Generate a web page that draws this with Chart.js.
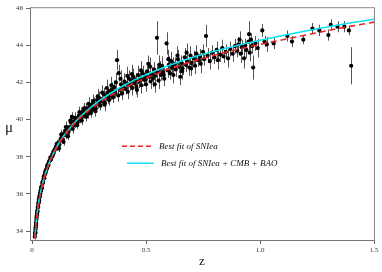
<!DOCTYPE html>
<html>
<head>
<meta charset="utf-8">
<script src="https://cdn.jsdelivr.net/npm/chart.js@4"></script>
<style>
  html, body { margin: 0; padding: 0; background: #fff; }
  #wrap { width: 382px; height: 272px; }
</style>
</head>
<body>
<div id="wrap"><canvas id="hubbleChart" width="382" height="272"></canvas></div>
<script>
// SNIa redshifts, distance moduli and 1-sigma errors
const snZ = [
  0.012, 0.013, 0.014, 0.015, 0.015, 0.016, 0.017, 0.017, 0.018, 0.019,
  0.020, 0.021, 0.022, 0.023, 0.024, 0.025, 0.026, 0.027, 0.028, 0.029,
  0.030, 0.031, 0.032, 0.033, 0.034, 0.035, 0.036, 0.038, 0.039, 0.040,
  0.042, 0.043, 0.045, 0.046, 0.048, 0.050, 0.052, 0.054, 0.056, 0.058,
  0.060, 0.062, 0.064, 0.066, 0.068, 0.070, 0.072, 0.075, 0.078, 0.080,
  0.083, 0.085, 0.088, 0.090, 0.093, 0.095, 0.098, 0.100,
  0.105, 0.110, 0.115, 0.120, 0.125, 0.130, 0.135, 0.140, 0.145, 0.150,
  0.155, 0.160, 0.165, 0.170, 0.175, 0.180, 0.185, 0.190, 0.195, 0.200,
  0.205, 0.210, 0.215, 0.220, 0.225, 0.230, 0.235, 0.240, 0.245, 0.250,
  0.255, 0.260, 0.265, 0.270, 0.275, 0.280, 0.285, 0.290, 0.295, 0.300,
  0.305, 0.310, 0.315, 0.320, 0.325, 0.330, 0.335, 0.340, 0.345, 0.350,
  0.355, 0.360, 0.365, 0.373, 0.380, 0.385, 0.390, 0.395, 0.400, 0.405,
  0.410, 0.415, 0.420, 0.425, 0.430, 0.435, 0.440, 0.445, 0.450, 0.455,
  0.460, 0.465, 0.470, 0.475, 0.480, 0.485, 0.490, 0.495, 0.500, 0.505,
  0.510, 0.515, 0.520, 0.525, 0.530, 0.535, 0.540, 0.548, 0.550, 0.555,
  0.560, 0.565, 0.570, 0.575, 0.580, 0.590, 0.595, 0.600,
  0.605, 0.610, 0.615, 0.620, 0.625, 0.630, 0.640, 0.645, 0.650, 0.655,
  0.660, 0.670, 0.675, 0.680, 0.690, 0.695, 0.700, 0.710, 0.715, 0.720,
  0.730, 0.735, 0.740, 0.750, 0.755, 0.763, 0.770, 0.780, 0.790, 0.800,
  0.810, 0.815, 0.825, 0.835, 0.840, 0.850, 0.860, 0.870, 0.880, 0.890,
  0.900, 0.905, 0.910, 0.915, 0.920, 0.930, 0.935, 0.940, 0.950, 0.952,
  0.955, 0.960, 0.965, 0.970, 0.980, 0.990, 1.010, 1.020, 1.030, 1.060,
  1.120, 1.140, 1.190, 1.230, 1.260, 1.300, 1.310, 1.340, 1.370, 1.390,
  1.400,
  0.108, 0.118, 0.128, 0.138, 0.148, 0.158, 0.168, 0.178, 0.188, 0.198,
  0.208, 0.218, 0.228, 0.238, 0.248, 0.258, 0.268, 0.278, 0.288, 0.298,
  0.308, 0.318, 0.328, 0.338, 0.348, 0.358, 0.368, 0.378, 0.388, 0.398,
  0.418, 0.438, 0.458, 0.478, 0.498, 0.518, 0.538, 0.558, 0.578, 0.598,
  0.618, 0.638, 0.658, 0.678, 0.698
];
const snMu = [
  33.70, 33.85, 33.95, 34.10, 33.92, 34.20, 34.30, 34.45, 34.40, 34.62,
  34.75, 34.85, 34.95, 35.10, 35.05, 35.25, 35.35, 35.30, 35.50, 35.55,
  35.70, 35.65, 35.82, 35.90, 35.85, 36.05, 36.00, 36.20, 36.15, 36.35,
  36.40, 36.30, 36.55, 36.65, 36.60, 36.80, 36.95, 36.85, 37.05, 37.20,
  37.15, 37.30, 37.35, 37.50, 37.45, 37.60, 37.55, 37.75, 37.80, 37.95,
  37.85, 38.00, 38.10, 38.05, 38.25, 38.20, 38.35, 38.40,
  38.55, 38.50, 38.75, 38.65, 38.95, 39.05, 38.90, 39.25, 39.40, 39.15,
  39.50, 39.35, 39.60, 39.85, 40.15, 39.65, 39.90, 39.75, 40.05, 39.85,
  40.20, 40.00, 40.35, 40.15, 40.45, 40.25, 40.60, 40.40, 40.30, 40.65,
  40.50, 40.80, 40.55, 40.90, 40.70, 40.60, 41.05, 40.85, 41.15, 40.75,
  41.10, 41.00, 41.35, 40.90, 41.25, 41.45, 41.15, 41.55, 41.30, 41.60,
  41.20, 41.75, 41.45, 43.20, 42.50, 41.60, 41.90, 41.40, 41.80, 42.05,
  41.65, 41.95, 41.50, 42.20, 41.85, 42.10, 41.70, 42.30, 41.95, 42.15,
  41.60, 42.40, 42.05, 42.25, 41.85, 42.50, 42.15, 42.35, 41.90, 42.60,
  43.00, 42.30, 42.05, 42.45, 42.20, 42.70, 42.35, 44.40, 42.55, 42.10,
  42.75, 42.40, 42.90, 42.55, 42.20, 44.10, 42.65, 42.95,
  42.50, 43.15, 42.80, 42.40, 43.00, 42.70, 43.25, 42.85, 42.30, 43.05,
  42.75, 43.35, 42.95, 43.15, 42.80, 43.45, 43.05, 43.30, 42.90, 43.55,
  43.20, 43.40, 43.00, 43.65, 43.25, 44.50, 43.45, 43.15, 43.60, 43.35,
  43.75, 43.20, 43.50, 43.85, 43.40, 43.65, 43.30, 43.80, 43.55, 43.95,
  43.70, 44.05, 44.30, 43.55, 43.90, 43.30, 44.00, 43.75, 44.20, 44.60,
  43.60, 44.30, 43.95, 42.80, 44.10, 43.85, 44.80, 44.20, 44.05, 44.10,
  44.50, 44.20, 44.30, 44.90, 44.80, 44.55, 45.10, 45.00, 45.00, 44.80,
  42.90,
  38.70, 38.45, 39.20, 38.80, 39.60, 39.10, 39.95, 39.50, 40.10, 39.70,
  40.40, 39.95, 40.60, 40.15, 40.85, 40.35, 41.00, 40.45, 41.25, 40.95,
  41.45, 40.80, 41.70, 41.05, 41.85, 41.50, 42.00, 41.30, 42.20, 41.75,
  42.35, 42.45, 41.75, 42.65, 42.15, 42.85, 41.90, 42.95, 42.40, 43.25,
  42.95, 43.45, 42.60, 43.60, 42.75
];
const snErr = [
  0.15, 0.12, 0.15, 0.12, 0.14, 0.12, 0.15, 0.12, 0.14, 0.12,
  0.13, 0.12, 0.15, 0.12, 0.13, 0.12, 0.15, 0.12, 0.13, 0.12,
  0.14, 0.12, 0.13, 0.12, 0.15, 0.12, 0.13, 0.12, 0.14, 0.12,
  0.13, 0.12, 0.15, 0.12, 0.13, 0.12, 0.14, 0.12, 0.13, 0.12,
  0.14, 0.12, 0.13, 0.12, 0.15, 0.12, 0.13, 0.12, 0.14, 0.13,
  0.12, 0.15, 0.12, 0.13, 0.12, 0.14, 0.15, 0.12,
  0.15, 0.18, 0.15, 0.20, 0.18, 0.20, 0.15, 0.20, 0.18, 0.20,
  0.22, 0.18, 0.20, 0.25, 0.25, 0.20, 0.22, 0.20, 0.25, 0.20,
  0.25, 0.20, 0.30, 0.22, 0.25, 0.20, 0.30, 0.22, 0.25, 0.25,
  0.22, 0.30, 0.25, 0.30, 0.22, 0.25, 0.30, 0.25, 0.35, 0.25,
  0.30, 0.25, 0.35, 0.30, 0.25, 0.40, 0.30, 0.35, 0.25, 0.40,
  0.30, 0.35, 0.30, 0.55, 0.45, 0.30, 0.40, 0.35, 0.30, 0.45,
  0.30, 0.35, 0.40, 0.45, 0.30, 0.35, 0.40, 0.45, 0.30, 0.35,
  0.40, 0.50, 0.35, 0.30, 0.45, 0.40, 0.35, 0.30, 0.40, 0.45,
  0.45, 0.30, 0.40, 0.35, 0.45, 0.40, 0.30, 0.90, 0.35, 0.45,
  0.40, 0.30, 0.50, 0.35, 0.40, 0.60, 0.40, 0.45,
  0.35, 0.50, 0.40, 0.45, 0.35, 0.40, 0.50, 0.35, 0.45, 0.40,
  0.35, 0.50, 0.40, 0.35, 0.45, 0.50, 0.35, 0.40, 0.45, 0.45,
  0.35, 0.40, 0.50, 0.40, 0.35, 0.60, 0.40, 0.45, 0.40, 0.35,
  0.45, 0.50, 0.40, 0.45, 0.35, 0.40, 0.50, 0.40, 0.45, 0.40,
  0.35, 0.40, 0.45, 0.50, 0.40, 0.55, 0.35, 0.45, 0.50, 0.70,
  0.45, 0.35, 0.40, 0.65, 0.40, 0.50, 0.35, 0.30, 0.40, 0.30,
  0.30, 0.30, 0.25, 0.30, 0.30, 0.30, 0.30, 0.30, 0.30, 0.25,
  1.00,
  0.20, 0.20, 0.25, 0.20, 0.30, 0.20, 0.30, 0.25, 0.30, 0.20,
  0.30, 0.25, 0.30, 0.25, 0.35, 0.25, 0.35, 0.30, 0.40, 0.30,
  0.40, 0.35, 0.45, 0.30, 0.45, 0.35, 0.50, 0.35, 0.45, 0.40,
  0.50, 0.50, 0.40, 0.50, 0.40, 0.50, 0.45, 0.50, 0.40, 0.50,
  0.40, 0.50, 0.45, 0.50, 0.40
];

// best-fit curves, sampled from the figure
const fitZ = [0.012, 0.015, 0.02, 0.025, 0.03, 0.04, 0.05, 0.06, 0.07, 0.08, 0.1,
  0.12, 0.15, 0.2, 0.25, 0.3, 0.35, 0.4, 0.45, 0.5, 0.6, 0.7, 0.8, 0.9, 1.0,
  1.1, 1.2, 1.3, 1.4, 1.5];
const fitSN = [33.58, 34.05, 34.70, 35.19, 35.60, 36.23, 36.74, 37.15, 37.50, 37.81, 38.32,
  38.75, 39.27, 39.96, 40.50, 40.95, 41.33, 41.67, 41.97, 42.24, 42.71, 43.12, 43.46, 43.77, 44.05,
  44.30, 44.55, 44.80, 45.03, 45.25];
const fitAll = [33.58, 34.05, 34.70, 35.19, 35.60, 36.23, 36.74, 37.15, 37.51, 37.82, 38.34,
  38.78, 39.31, 40.02, 40.58, 41.06, 41.46, 41.82, 42.14, 42.42, 42.91, 43.33, 43.68, 43.99, 44.27,
  44.53, 44.77, 45.00, 45.21, 45.40];

const xTicks = [0, 0.5, 1, 1.5];
const yTicks = [34, 36, 38, 40, 42, 44, 46];

const serif = '"Liberation Serif", "DejaVu Serif", serif';
const toXY = (xs, ys) => xs.map((x, i) => ({ x: x, y: ys[i] }));

// vertical error bars + frame + legend + upright mu label
const extras = {
  id: 'extras',
  beforeDatasetsDraw(chart) {
    const { ctx, scales: { x, y } } = chart;
    ctx.save();
    ctx.strokeStyle = '#555';
    ctx.lineWidth = 1;
    ctx.beginPath();
    snZ.forEach((z, i) => {
      const px = Math.round(x.getPixelForValue(z)) + 0.5;
      ctx.moveTo(px, y.getPixelForValue(snMu[i] - snErr[i]));
      ctx.lineTo(px, y.getPixelForValue(snMu[i] + snErr[i]));
    });
    ctx.stroke();
    ctx.restore();
  },
  afterDraw(chart) {
    const { ctx, chartArea: a } = chart;
    ctx.save();
    ctx.strokeStyle = '#888';
    ctx.lineWidth = 1;
    ctx.beginPath();
    ctx.moveTo(a.left, a.top + 0.5);
    ctx.lineTo(a.right + 0.5, a.top + 0.5);
    ctx.lineTo(a.right + 0.5, a.bottom);
    ctx.stroke();

    ctx.fillStyle = '#111';
    ctx.textBaseline = 'middle';
    ctx.textAlign = 'center';
    ctx.font = '15px ' + serif;
    ctx.fillText('μ', 9, (a.top + a.bottom) / 2 + 4);

    ctx.textAlign = 'left';
    ctx.font = 'italic 9px ' + serif;
    ctx.lineWidth = 1.5;
    ctx.strokeStyle = '#ee2222';
    ctx.setLineDash([5, 3]);
    ctx.beginPath();
    ctx.moveTo(a.left + 92, a.top + 139);
    ctx.lineTo(a.left + 122, a.top + 139);
    ctx.stroke();
    ctx.fillText('Best fit of SNIea', a.left + 129, a.top + 139);
    ctx.strokeStyle = '#11e0ee';
    ctx.setLineDash([]);
    ctx.beginPath();
    ctx.moveTo(a.left + 97, a.top + 156);
    ctx.lineTo(a.left + 124, a.top + 156);
    ctx.stroke();
    ctx.fillText('Best fit of SNIea + CMB + BAO', a.left + 131, a.top + 156);
    ctx.restore();
  }
};

const ctx = document.getElementById('hubbleChart').getContext('2d');
const hubbleChart = new Chart(ctx, {
  type: 'scatter',
  data: {
    datasets: [
      {
        type: 'line',
        label: 'Best fit of SNIea',
        data: toXY(fitZ, fitSN),
        borderColor: '#ee2222',
        borderWidth: 1.6,
        borderDash: [6, 4],
        pointRadius: 0,
        cubicInterpolationMode: 'monotone',
        order: 0
      },
      {
        type: 'line',
        label: 'Best fit of SNIea + CMB + BAO',
        data: toXY(fitZ, fitAll),
        borderColor: '#11e0ee',
        borderWidth: 1.6,
        pointRadius: 0,
        cubicInterpolationMode: 'monotone',
        order: 1
      },
      {
        label: 'SNIa',
        data: toXY(snZ, snMu),
        backgroundColor: '#000',
        borderColor: '#000',
        pointRadius: 2.1,
        pointBorderWidth: 0,
        order: 2
      }
    ]
  },
  options: {
    responsive: false,
    animation: false,
    events: [],
    layout: { padding: { top: 6, right: 8, left: 0, bottom: 0 } },
    plugins: { legend: { display: false }, tooltip: { enabled: false } },
    scales: {
      x: {
        type: 'linear',
        min: -0.009,
        max: 1.5,
        afterFit: (s) => { s.height = 32; },
        afterBuildTicks: (s) => { s.ticks = xTicks.map(v => ({ value: v })); },
        ticks: { font: { family: serif, size: 7 }, color: '#333', padding: 2, maxRotation: 0 },
        grid: { drawOnChartArea: false, drawTicks: true, tickLength: 4, color: '#666' },
        border: { color: '#777', width: 1 },
        title: { display: true, text: 'z', font: { family: serif, size: 13 }, color: '#111', padding: { top: 0, bottom: 3 } }
      },
      y: {
        type: 'linear',
        min: 33.52,
        max: 46.05,
        afterFit: (s) => { s.width = 30; },
        afterBuildTicks: (s) => { s.ticks = yTicks.map(v => ({ value: v })); },
        ticks: { font: { family: serif, size: 7 }, color: '#333', padding: 3 },
        grid: { drawOnChartArea: false, drawTicks: true, tickLength: 4, color: '#666' },
        border: { color: '#777', width: 1 }
      }
    }
  },
  plugins: [extras]
});
</script>
</body>
</html>
